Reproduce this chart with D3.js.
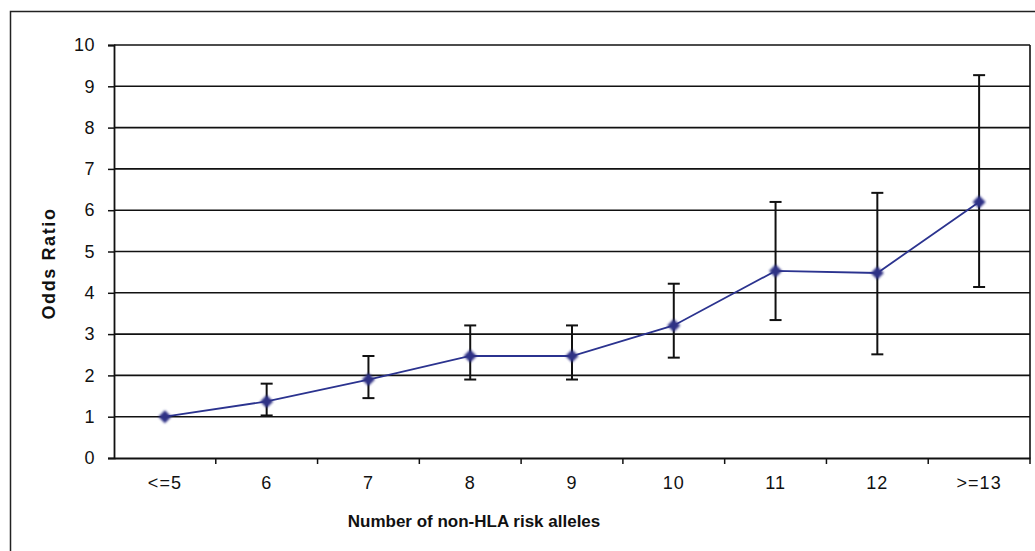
<!DOCTYPE html>
<html>
<head>
<meta charset="utf-8">
<script src="https://cdn.jsdelivr.net/npm/d3@7"></script>
<style>
  html, body { margin: 0; padding: 0; background: #fff; }
  svg { display: block; font-family: "Liberation Sans", Arial, sans-serif; }
</style>
</head>
<body>
<svg id="chart" width="1035" height="551"></svg>
<script>
// Odds ratio by number of non-HLA risk alleles, with 95% confidence intervals
const categories = ["<=5", "6", "7", "8", "9", "10", "11", "12", ">=13"];
const oddsRatio  = [1.00, 1.37, 1.90, 2.47, 2.47, 3.21, 4.53, 4.48, 6.20];
const ciLower    = [1.00, 1.03, 1.45, 1.90, 1.90, 2.43, 3.34, 2.51, 4.14];
const ciUpper    = [1.00, 1.80, 2.47, 3.21, 3.21, 4.22, 6.20, 6.42, 9.27];
const yTicks     = [0, 1, 2, 3, 4, 5, 6, 7, 8, 9, 10];

const svg = d3.select("#chart");
const plot = { left: 114, right: 1030, top: 45, bottom: 458 };

const x = d3.scaleBand().domain(categories).range([plot.left, plot.right]).padding(0);
const y = d3.scaleLinear().domain([0, 10]).range([plot.bottom, plot.top]);

// outer chart frame
svg.append("rect")
  .attr("x", 10.5).attr("y", 11.5)
  .attr("width", 1060).attr("height", 580)
  .attr("fill", "none").attr("stroke", "#222").attr("stroke-width", 1.5);

// horizontal gridlines
svg.append("g")
  .selectAll("line")
  .data(yTicks.filter(d => d > 0))
  .join("line")
  .attr("x1", plot.left).attr("x2", plot.right)
  .attr("y1", d => y(d)).attr("y2", d => y(d))
  .attr("stroke", "#111").attr("stroke-width", 1.6);

// right edge of plot area
svg.append("line")
  .attr("x1", plot.right).attr("x2", plot.right)
  .attr("y1", plot.top).attr("y2", plot.bottom)
  .attr("stroke", "#111").attr("stroke-width", 1.6);

// y axis
const yAxis = svg.append("g")
  .attr("transform", `translate(${plot.left},0)`)
  .call(d3.axisLeft(y).tickValues(yTicks).tickSize(6).tickPadding(13).tickFormat(d3.format("d")));
yAxis.select(".domain").attr("stroke", "#111").attr("stroke-width", 1.8);
yAxis.selectAll(".tick line").attr("stroke", "#111").attr("stroke-width", 1.5);
yAxis.selectAll(".tick text")
  .attr("font-size", 18).attr("fill", "#111").attr("letter-spacing", 0.5)
  .attr("font-family", "'Liberation Sans', Arial, sans-serif");

// x axis: ticks sit on the category boundaries
const xAxis = svg.append("g")
  .attr("transform", `translate(0,${plot.bottom})`)
  .call(d3.axisBottom(x).tickSize(0).tickPadding(18));
xAxis.select(".domain").attr("stroke", "#111").attr("stroke-width", 1.8);
xAxis.selectAll(".tick text")
  .attr("font-size", 18).attr("fill", "#111").attr("letter-spacing", 1)
  .attr("font-family", "'Liberation Sans', Arial, sans-serif");
xAxis.append("g")
  .selectAll("line")
  .data(categories.slice(1).concat(["__end"]))
  .join("line")
  .attr("x1", (d, i) => i < categories.length - 1 ? x(d) : plot.right)
  .attr("x2", (d, i) => i < categories.length - 1 ? x(d) : plot.right)
  .attr("y1", 0).attr("y2", 6)
  .attr("stroke", "#111").attr("stroke-width", 1.5);

// axis titles
svg.append("text")
  .attr("x", 474).attr("y", 527)
  .attr("text-anchor", "middle")
  .attr("font-size", 17).attr("font-weight", "bold").attr("fill", "#111")
  .text("Number of non-HLA risk alleles");

svg.append("text")
  .attr("transform", `translate(55,${(plot.top + plot.bottom) / 2 + 12}) rotate(-90)`)
  .attr("text-anchor", "middle")
  .attr("font-size", 18).attr("font-weight", "bold").attr("fill", "#111")
  .attr("letter-spacing", 1.6)
  .text("Odds Ratio");

const cx = d => x(d) + x.bandwidth() / 2;

// confidence interval bars
const err = svg.append("g").attr("stroke", "#111").attr("stroke-width", 2);
categories.forEach((c, i) => {
  if (ciUpper[i] === ciLower[i]) return;
  err.append("line")
    .attr("x1", cx(c)).attr("x2", cx(c))
    .attr("y1", y(ciLower[i])).attr("y2", y(ciUpper[i]));
  [ciLower[i], ciUpper[i]].forEach(v => {
    err.append("line")
      .attr("x1", cx(c) - 6).attr("x2", cx(c) + 6)
      .attr("y1", y(v)).attr("y2", y(v));
  });
});

// odds ratio line
svg.append("path")
  .datum(categories.map((c, i) => [cx(c), y(oddsRatio[i])]))
  .attr("d", d3.line())
  .attr("fill", "none").attr("stroke", "#2b338f").attr("stroke-width", 1.8);

// soft diamond markers
const defs = svg.append("defs");
defs.append("filter").attr("id", "soft")
  .append("feGaussianBlur").attr("stdDeviation", 0.8);

const diamond = "M0,-6.5L6.5,0L0,6.5L-6.5,0Z";
svg.append("g")
  .selectAll("path")
  .data(categories)
  .join("path")
  .attr("d", diamond)
  .attr("transform", (c, i) => `translate(${cx(c)},${y(oddsRatio[i])})`)
  .attr("fill", "#2e3185")
  .attr("filter", "url(#soft)");
</script>
</body>
</html>
